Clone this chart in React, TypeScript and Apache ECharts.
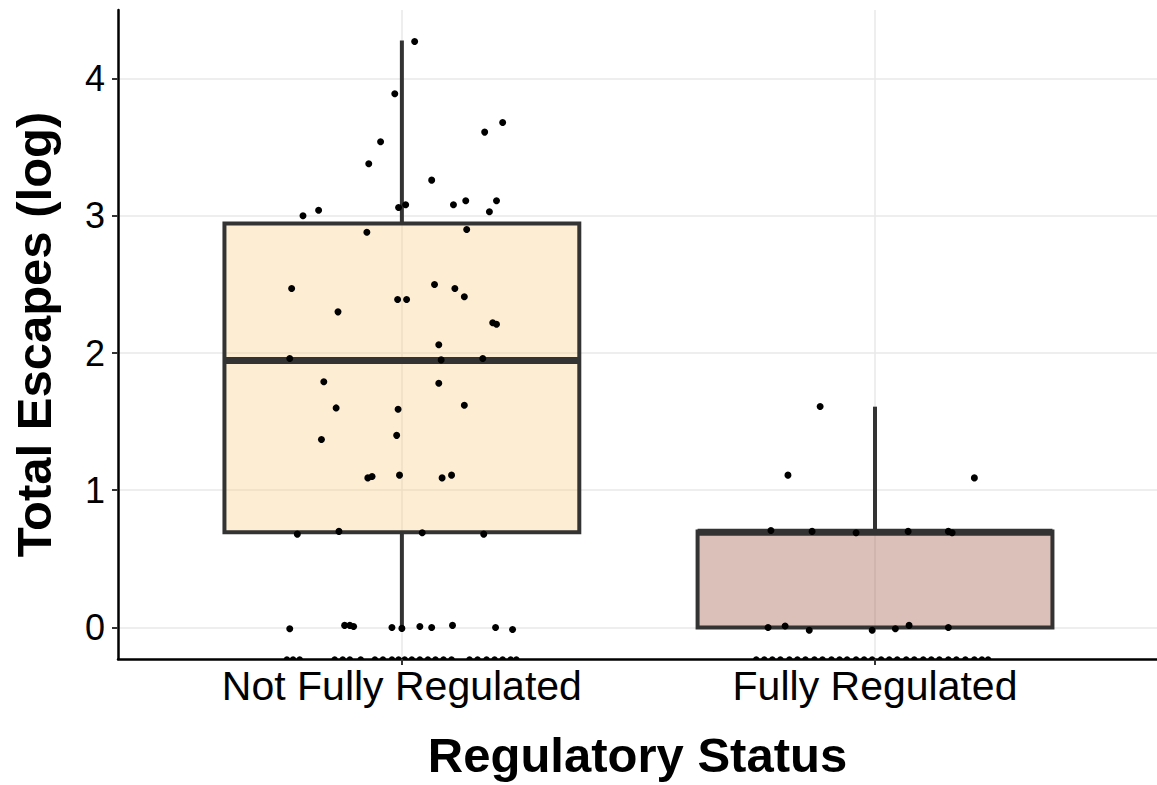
import React, { useEffect, useRef } from "react";
import * as echarts from "echarts";

const categories = ["Not Fully Regulated", "Fully Regulated"];
const categoryPositions = [1, 2];
const yTickValues = [0, 1, 2, 3, 4];

// [position, lowerWhisker, Q1, median, Q3, upperWhisker]
const boxNotFully = [1, 0, 0.693, 1.946, 2.944, 4.277];
const boxFully = [2, 0, 0, 0.693, 0.7, 1.609];

// jittered points [x, y]
const pointsNotFully: number[][] = [
  [1.027, 4.27], [0.985, 3.89], [0.955, 3.54], [0.930, 3.38], [1.213, 3.68],
  [1.175, 3.61], [1.063, 3.26], [0.791, 3.0], [0.824, 3.04], [0.993, 3.06],
  [1.008, 3.08], [1.109, 3.08], [1.135, 3.11], [1.200, 3.11], [1.185, 3.03],
  [0.926, 2.88], [1.137, 2.9],
  [0.767, 2.47], [0.865, 2.3], [0.991, 2.39], [1.010, 2.39], [1.069, 2.5],
  [1.112, 2.47], [1.132, 2.41], [1.192, 2.22], [1.200, 2.21], [1.078, 2.06],
  [0.763, 1.96], [1.083, 1.95], [1.171, 1.96], [0.835, 1.79], [1.078, 1.78],
  [0.861, 1.6], [0.992, 1.59], [1.132, 1.62], [0.830, 1.37], [0.989, 1.4],
  [0.928, 1.09], [0.937, 1.1], [0.995, 1.11], [1.085, 1.09], [1.105, 1.11],
  [0.779, 0.68], [0.867, 0.7], [1.043, 0.69], [1.173, 0.68],
  [0.763, -0.01], [0.879, 0.015], [0.890, 0.015], [0.898, 0.007], [0.979, 0.0],
  [1.0, -0.007], [1.038, 0.007], [1.063, 0.0], [1.107, 0.015], [1.198, 0.0],
  [1.234, -0.015],
];

const pointsFully: number[][] = [
  [1.884, 1.61], [1.816, 1.11], [2.210, 1.09],
  [1.780, 0.706], [1.867, 0.7], [1.960, 0.69], [2.070, 0.7], [2.155, 0.7], [2.163, 0.69],
  [1.774, 0.0], [1.810, 0.01], [1.861, -0.02], [1.994, -0.02], [2.043, -0.01],
  [2.072, 0.015], [2.155, 0.0],
];

// x positions of points whose value lies below the axis (zero escapes, -Inf on log scale)
const belowAxisNotFully = [
  0.757, 0.770, 0.784, 0.858, 0.875, 0.890, 0.913, 0.943, 0.960, 0.979, 0.993,
  1.006, 1.021, 1.038, 1.055, 1.071, 1.088, 1.105, 1.143, 1.160, 1.179, 1.196,
  1.213, 1.230, 1.242,
];
const belowAxisFully = [
  1.749, 1.766, 1.783, 1.800, 1.819, 1.836, 1.853, 1.872, 1.889, 1.908, 1.925,
  1.941, 1.960, 1.977, 1.994, 2.013, 2.030, 2.047, 2.066, 2.083, 2.102, 2.119,
  2.136, 2.155, 2.172, 2.191, 2.210, 2.226, 2.239,
];

const Y_MIN = -0.23;
const Y_MAX = 4.5;
const X_MIN = 0.4;
const X_MAX = 2.596;
const BOX_HALF = 0.375;
const boxFills = ["rgba(250,205,130,0.35)", "rgba(150,75,55,0.35)"];
const FONT = "'Liberation Sans', Arial, Helvetica, sans-serif";

export default function App() {
  const ref = useRef<HTMLDivElement>(null);

  useEffect(() => {
    if (!ref.current) return;
    const chart = echarts.init(ref.current, null, { renderer: "svg" });

    const boxData = [boxNotFully, boxFully];
    const belowData = [
      ...belowAxisNotFully.map((x) => [x, Y_MIN]),
      ...belowAxisFully.map((x) => [x, Y_MIN]),
    ];

    const option: any = {
      animation: false,
      backgroundColor: "#ffffff",
      grid: { left: 118, right: 0, top: 10, bottom: 126, containLabel: false },
      xAxis: {
        type: "value",
        min: X_MIN,
        max: X_MAX,
        name: "Regulatory Status",
        nameLocation: "middle",
        nameGap: 71,
        nameTextStyle: { fontFamily: FONT, fontSize: 49, fontWeight: "bold", color: "#000" },
        axisLine: { show: true, onZero: false, lineStyle: { color: "#000", width: 2.5 } },
        axisTick: { show: true, customValues: categoryPositions, length: 6, lineStyle: { color: "#333", width: 2 } },
        axisLabel: {
          customValues: categoryPositions,
          formatter: (v: number) => categories[Math.round(v) - 1] ?? "",
          margin: 6,
          fontFamily: FONT,
          fontSize: 41,
          color: "#000",
        },
        splitLine: { show: true, lineStyle: { color: "#E8E8E8", width: 1.5 } },
      },
      yAxis: {
        type: "value",
        min: Y_MIN,
        max: Y_MAX,
        name: "Total Escapes (log)",
        nameLocation: "middle",
        nameGap: 60,
        nameTextStyle: { fontFamily: FONT, fontSize: 49, fontWeight: "bold", color: "#000" },
        axisLine: { show: true, onZero: false, lineStyle: { color: "#000", width: 2.5 } },
        axisTick: { show: true, customValues: yTickValues, length: 6, lineStyle: { color: "#333", width: 2 } },
        axisLabel: {
          customValues: yTickValues,
          margin: 13,
          fontFamily: FONT,
          fontSize: 36,
          color: "#000",
        },
        splitLine: { show: true, lineStyle: { color: "#E8E8E8", width: 1.5 } },
      },
      series: [
        {
          type: "custom",
          name: "box",
          data: boxData,
          z: 2,
          clip: true,
          renderItem: (params: any, api: any) => {
            const x = api.value(0);
            const lo = api.value(1);
            const q1 = api.value(2);
            const med = api.value(3);
            const q3 = api.value(4);
            const hi = api.value(5);
            const pc = api.coord([x, med]);
            const pLeft = api.coord([x - BOX_HALF, q3]);
            const pRight = api.coord([x + BOX_HALF, q1]);
            const pLo = api.coord([x, lo]);
            const pHi = api.coord([x, hi]);
            const pQ1 = api.coord([x, q1]);
            const pQ3 = api.coord([x, q3]);
            const stroke = "#333333";
            const children: any[] = [];
            if (hi > q3) {
              children.push({
                type: "line",
                shape: { x1: pc[0], y1: pQ3[1], x2: pc[0], y2: pHi[1] },
                style: { stroke, lineWidth: 4 },
              });
            }
            if (lo < q1) {
              children.push({
                type: "line",
                shape: { x1: pc[0], y1: pQ1[1], x2: pc[0], y2: pLo[1] },
                style: { stroke, lineWidth: 4 },
              });
            }
            children.push({
              type: "rect",
              shape: {
                x: pLeft[0],
                y: pLeft[1],
                width: pRight[0] - pLeft[0],
                height: pRight[1] - pLeft[1],
              },
              style: { fill: boxFills[params.dataIndex], stroke, lineWidth: 4 },
            });
            children.push({
              type: "line",
              shape: { x1: pLeft[0], y1: pc[1], x2: pRight[0], y2: pc[1] },
              style: { stroke, lineWidth: 7 },
            });
            return { type: "group", children };
          },
        },
        {
          type: "scatter",
          name: "Not Fully Regulated",
          data: pointsNotFully,
          symbol: "circle",
          symbolSize: 7,
          z: 5,
          itemStyle: { color: "#000", opacity: 1 },
        },
        {
          type: "scatter",
          name: "Fully Regulated",
          data: pointsFully,
          symbol: "circle",
          symbolSize: 7,
          z: 5,
          itemStyle: { color: "#000", opacity: 1 },
        },
        {
          type: "custom",
          name: "below axis",
          data: belowData,
          z: 5,
          clip: true,
          renderItem: (params: any, api: any) => {
            const p = api.coord([api.value(0), api.value(1)]);
            return {
              type: "circle",
              shape: { cx: p[0], cy: p[1] + 0.5, r: 3.3 },
              style: { fill: "#000" },
            };
          },
        },
      ],
    };

    chart.setOption(option);
    return () => chart.dispose();
  }, []);

  return (
    <div
      ref={ref}
      style={{ position: "absolute", left: 0, top: 0, width: 1157, height: 785, background: "#fff" }}
    />
  );
}
